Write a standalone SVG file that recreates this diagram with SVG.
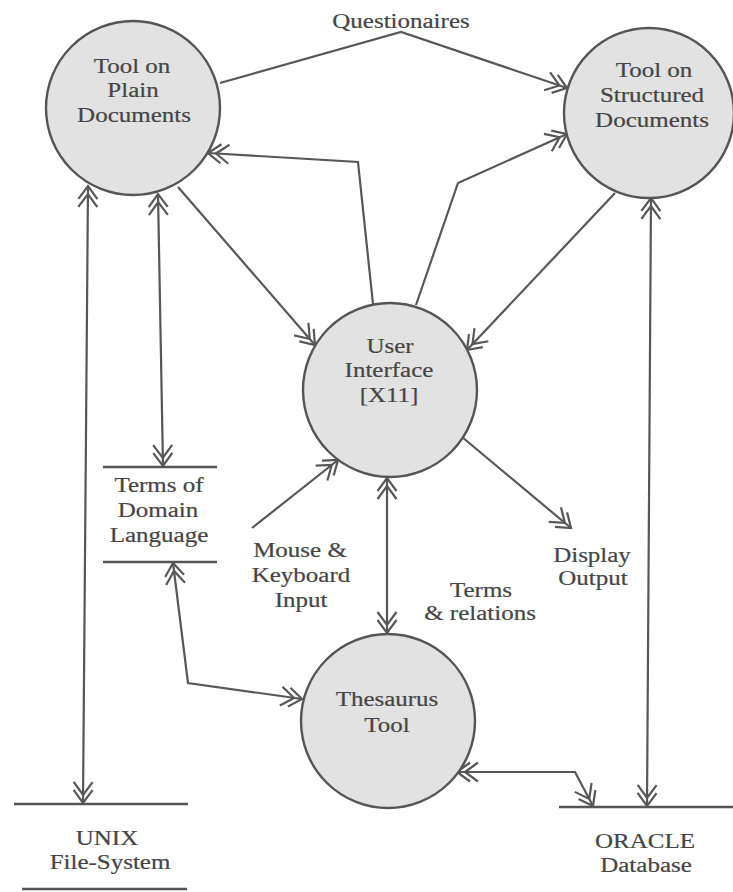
<svg xmlns="http://www.w3.org/2000/svg" width="733" height="892" viewBox="0 0 733 892">
  <style>
    .bg { fill: #ffffff; }
    .proc { fill: #e2e2e2; stroke: #555555; stroke-width: 2.4; }
    .store { stroke: #555555; stroke-width: 2.6; fill: none; }
    .c { stroke: #575757; stroke-width: 2.2; fill: none; stroke-linejoin: miter; }
    .t { font-family: "Liberation Serif", "Times New Roman", serif; font-size: 20px; fill: #454545; stroke: #454545; stroke-width: 0.2; text-anchor: middle; }
  </style>
  <defs>
    <!-- double open chevron used on every flow end -->
    <marker id="dbl" markerUnits="userSpaceOnUse" viewBox="-24 -12 26 24" refX="0" refY="0" markerWidth="26" markerHeight="24" orient="auto-start-reverse" overflow="visible">
      <path d="M-13,-9.5 L0,0 L-13,9.5 M-21,-9.5 L-8,0 L-21,9.5" fill="none" stroke="#575757" stroke-width="2.2"/>
    </marker>
  </defs>
  <rect class="bg" x="0" y="0" width="733" height="892"/>

  <!-- flows -->
  <g id="connectors">
    <path class="c" d="M88,186 L83,803" marker-start="url(#dbl)" marker-end="url(#dbl)"/>
    <path class="c" d="M158,194 L163,466" marker-start="url(#dbl)" marker-end="url(#dbl)"/>
    <path class="c" d="M178,187 L315,345" marker-end="url(#dbl)"/>
    <path class="c" d="M373,304 L358,162 L208,153" marker-end="url(#dbl)"/>
    <path class="c" d="M220,83 L401,32 L567,88" marker-end="url(#dbl)"/>
    <path class="c" d="M416,305 L458,183 L567,134" marker-end="url(#dbl)"/>
    <path class="c" d="M615,193 L467,350" marker-end="url(#dbl)"/>
    <path class="c" d="M651,198 L647,806" marker-start="url(#dbl)" marker-end="url(#dbl)"/>
    <path class="c" d="M462,437 L571,528" marker-end="url(#dbl)"/>
    <path class="c" d="M252,528 L338,460" marker-end="url(#dbl)"/>
    <path class="c" d="M387,478 L387,633" marker-start="url(#dbl)" marker-end="url(#dbl)"/>
    <path class="c" d="M173,563 L188,683 L302,699" marker-start="url(#dbl)" marker-end="url(#dbl)"/>
    <path class="c" d="M457,772 L575,772 L593,806" marker-start="url(#dbl)" marker-end="url(#dbl)"/>
  </g>

  <!-- flow labels -->
  <g id="labels">
    <text class="t" transform="translate(401,28) scale(1.25,1)">Questionaires</text>
    <text class="t" transform="translate(300,557) scale(1.25,1)">Mouse &amp;</text>
    <text class="t" transform="translate(301,582) scale(1.25,1)">Keyboard</text>
    <text class="t" transform="translate(301,607) scale(1.25,1)">Input</text>
    <text class="t" transform="translate(481,597) scale(1.25,1)">Terms</text>
    <text class="t" transform="translate(480,620) scale(1.25,1)">&amp; relations</text>
    <text class="t" transform="translate(592,562) scale(1.25,1)">Display</text>
    <text class="t" transform="translate(593,585) scale(1.25,1)">Output</text>
  </g>

  <!-- processes -->
  <g id="plain-tool">
    <circle class="proc" cx="133" cy="108" r="87"/>
    <text class="t" transform="translate(132,73) scale(1.25,1)">Tool on</text>
    <text class="t" transform="translate(133,97) scale(1.25,1)">Plain</text>
    <text class="t" transform="translate(134,122) scale(1.25,1)">Documents</text>
  </g>
  <g id="structured-tool">
    <circle class="proc" cx="649" cy="113" r="85"/>
    <text class="t" transform="translate(654,77) scale(1.25,1)">Tool on</text>
    <text class="t" transform="translate(652,102) scale(1.25,1)">Structured</text>
    <text class="t" transform="translate(652,127) scale(1.25,1)">Documents</text>
  </g>
  <g id="user-interface">
    <circle class="proc" cx="390" cy="390" r="87"/>
    <text class="t" transform="translate(390,353) scale(1.25,1)">User</text>
    <text class="t" transform="translate(389,377) scale(1.25,1)">Interface</text>
    <text class="t" transform="translate(389,402) scale(1.25,1)">[X11]</text>
  </g>
  <g id="thesaurus-tool">
    <circle class="proc" cx="388" cy="721" r="87"/>
    <text class="t" transform="translate(387,706) scale(1.25,1)">Thesaurus</text>
    <text class="t" transform="translate(387,732) scale(1.25,1)">Tool</text>
  </g>

  <!-- data stores -->
  <g id="domain-terms">
    <path class="store" d="M103,467 L217,467 M103,562 L217,562"/>
    <text class="t" transform="translate(159,492) scale(1.25,1)">Terms of</text>
    <text class="t" transform="translate(158,517) scale(1.25,1)">Domain</text>
    <text class="t" transform="translate(159,542) scale(1.25,1)">Language</text>
  </g>
  <g id="unix-fs">
    <path class="store" d="M14,804 L188,804 M22,889 L187,889"/>
    <text class="t" transform="translate(107,845) scale(1.25,1)">UNIX</text>
    <text class="t" transform="translate(110,869) scale(1.25,1)">File-System</text>
  </g>
  <g id="oracle-db">
    <path class="store" d="M559,807 L733,807"/>
    <text class="t" transform="translate(645,848) scale(1.25,1)">ORACLE</text>
    <text class="t" transform="translate(646,872) scale(1.25,1)">Database</text>
  </g>
</svg>
